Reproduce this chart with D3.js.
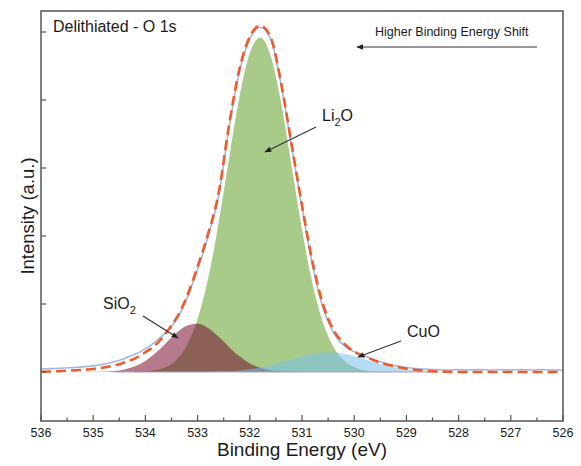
<!DOCTYPE html>
<html>
<head>
<meta charset="utf-8">
<script src="https://cdn.jsdelivr.net/npm/d3@7"></script>
<style>
  body { margin: 0; background: #fff; }
  text { font-family: "Liberation Sans", Arial, Helvetica, sans-serif; fill: #1a1a1a; }
</style>
</head>
<body>
<div id="chart"></div>
<script>
// binding energy grid (eV)
const energy = [536.0,535.8,535.6,535.4,535.2,535.0,534.8,534.6,534.4,534.2,
  534.0,533.8,533.6,533.4,533.2,533.0,532.8,532.6,532.4,532.2,
  532.0,531.8,531.6,531.4,531.2,531.0,530.8,530.6,530.4,530.2,
  530.0,529.8,529.6,529.4,529.2,529.0,528.8,528.6,528.4,528.2,
  528.0,527.8,527.6,527.4,527.2,527.0,526.8,526.6,526.4,526.2,526.0];

// fitted components
const sio2 = [0,0,0,0,0,0.002,0.005,0.015,0.037,0.083,
  0.163,0.283,0.431,0.577,0.682,0.708,0.648,0.521,0.369,0.230,
  0.126,0.061,0.026,0.010,0.003,0.001,0,0,0,0,
  0,0,0,0,0,0,0,0,0,0,
  0,0,0,0,0,0,0,0,0,0,0];
const li2o = [0,0,0,0,0,0,0,0,0,0.003,
  0.010,0.028,0.076,0.18,0.40,0.78,1.37,2.18,3.13,4.04,
  4.69,4.92,4.65,3.96,3.03,2.10,1.30,0.73,0.37,0.17,
  0.07,0.026,0.009,0.002,0,0,0,0,0,0,
  0,0,0,0,0,0,0,0,0,0,0];
const cuo = [0,0,0,0,0,0,0,0,0,0,
  0,0,0,0,0,0,0,0.006,0.012,0.022,
  0.039,0.065,0.099,0.141,0.188,0.232,0.268,0.287,0.287,0.268,
  0.232,0.188,0.141,0.099,0.065,0.039,0.022,0.012,0.006,0.003,
  0,0,0,0,0,0,0,0,0,0,0];
const envelope = [0.003,0.008,0.015,0.022,0.032,0.045,0.065,0.095,0.14,0.20,
  0.29,0.40,0.58,0.80,1.12,1.55,2.03,2.62,3.62,4.45,
  4.93,5.09,4.92,4.25,3.35,2.45,1.62,1.00,0.62,0.42,
  0.30,0.23,0.165,0.115,0.08,0.05,0.03,0.016,0.008,0.003,
  0,0,0,0,0,0,0,0,0,0,0];
const raw = [0.045,0.05,0.055,0.065,0.075,0.09,0.115,0.15,0.20,0.26,
  0.34,0.45,0.59,0.78,1.09,1.51,1.99,2.58,3.58,4.41,
  4.90,5.07,4.90,4.22,3.32,2.42,1.58,0.95,0.58,0.39,
  0.30,0.235,0.175,0.125,0.09,0.065,0.05,0.04,0.035,0.03,
  0.035,0.03,0.035,0.03,0.035,0.03,0.035,0.03,0.035,0.03,0.03];

const xTicks = [536,535,534,533,532,531,530,529,528,527,526];
const yTicks = [0,1,2,3,4,5];

const W = 581, H = 466;
const pL = 41, pR = 563, pT = 11, pB = 421;

const svg = d3.select("#chart").append("svg")
  .attr("width", W).attr("height", H);

const x = d3.scaleLinear().domain([536, 526]).range([pL, pR]);
const y = d3.scaleLinear().domain([-49/68, 361/68]).range([pB, pT]);

svg.append("clipPath").attr("id", "clip")
  .append("rect").attr("x", pL).attr("y", pT)
  .attr("width", pR - pL).attr("height", pB - pT);

const g = svg.append("g").attr("clip-path", "url(#clip)");

const pts = arr => arr.map((v, i) => [energy[i], v]);
const area = d3.area().x(d => x(d[0])).y0(y(0)).y1(d => y(d[1])).curve(d3.curveMonotoneX);
const line = d3.line().x(d => x(d[0])).y(d => y(d[1])).curve(d3.curveMonotoneX);

// components
g.append("path").attr("d", area(pts(li2o))).attr("fill", "#a8cb8a");
g.append("path").attr("d", area(pts(sio2))).attr("fill", "rgb(115,4,38)").attr("fill-opacity", 0.53);
g.append("path").attr("d", area(pts(cuo))).attr("fill", "rgb(118,191,233)").attr("fill-opacity", 0.54);

g.append("line")
  .attr("x1", x(534.6)).attr("x2", x(528.4))
  .attr("y1", y(0)).attr("y2", y(0))
  .attr("stroke", "#a7a0c8").attr("stroke-width", 1.2);

// raw data
g.append("path").attr("d", line(pts(raw)))
  .attr("fill", "none").attr("stroke", "#9dbbdc").attr("stroke-width", 1.6);

// envelope
g.append("path").attr("d", line(pts(envelope)))
  .attr("fill", "none").attr("stroke", "#f15a2b").attr("stroke-width", 2.6)
  .attr("stroke-dasharray", "10,5");

// frame
svg.append("rect").attr("x", pL).attr("y", pT)
  .attr("width", pR - pL).attr("height", pB - pT)
  .attr("fill", "none").attr("stroke", "#555").attr("stroke-width", 1.5);

// x ticks (inward)
const xMinor = xTicks.slice(0, -1).map(t => t - 0.5);
svg.selectAll(".xt").data(xTicks).enter().append("line")
  .attr("x1", d => x(d)).attr("x2", d => x(d))
  .attr("y1", pB).attr("y2", pB - 6)
  .attr("stroke", "#555").attr("stroke-width", 1.2);
svg.selectAll(".xm").data(xMinor).enter().append("line")
  .attr("x1", d => x(d)).attr("x2", d => x(d))
  .attr("y1", pB).attr("y2", pB - 3.5)
  .attr("stroke", "#555").attr("stroke-width", 1.2);
svg.selectAll(".xl").data(xTicks).enter().append("text")
  .attr("x", d => x(d)).attr("y", 437)
  .attr("text-anchor", "middle").attr("font-size", 12.5)
  .text(d => d);

// y ticks (inward, no labels)
svg.selectAll(".yt").data(yTicks).enter().append("line")
  .attr("x1", pL).attr("x2", pL + 5)
  .attr("y1", d => y(d)).attr("y2", d => y(d))
  .attr("stroke", "#555").attr("stroke-width", 1.2);

// axis titles
svg.append("text").attr("x", 302).attr("y", 456)
  .attr("text-anchor", "middle").attr("font-size", 19)
  .text("Binding Energy (eV)");
svg.append("text").attr("transform", "translate(34,216) rotate(-90)")
  .attr("text-anchor", "middle").attr("font-size", 18.5)
  .text("Intensity (a.u.)");

// annotations
svg.append("text").attr("x", 53).attr("y", 32).attr("font-size", 16)
  .text("Delithiated - O 1s");
svg.append("text").attr("x", 375).attr("y", 36).attr("font-size", 12.5)
  .text("Higher Binding Energy Shift");

const defs = svg.append("defs");
defs.append("marker").attr("id", "ah")
  .attr("viewBox", "0 0 10 10").attr("refX", 9).attr("refY", 5)
  .attr("markerWidth", 7).attr("markerHeight", 7)
  .attr("markerUnits", "userSpaceOnUse")
  .attr("orient", "auto")
  .append("path").attr("d", "M0,1 L10,5 L0,9 Z").attr("fill", "#222");

const arrows = [
  [537, 47, 357, 47],
  [316, 127, 265, 152],
  [143, 316, 178, 338],
  [401, 341, 358, 357]
];
svg.selectAll(".ar").data(arrows).enter().append("line")
  .attr("x1", d => d[0]).attr("y1", d => d[1])
  .attr("x2", d => d[2]).attr("y2", d => d[3])
  .attr("stroke", "#333").attr("stroke-width", 1.2)
  .attr("marker-end", "url(#ah)");

function chem(xp, yp, parts) {
  const t = svg.append("text").attr("x", xp).attr("y", yp).attr("font-size", 16);
  parts.forEach(p => {
    if (p.sub) {
      t.append("tspan").attr("font-size", 11).attr("dy", 5).text(p.s);
    } else {
      t.append("tspan").attr("dy", p.back ? -5 : 0).text(p.s);
    }
  });
}
chem(322, 121, [{s: "Li"}, {s: "2", sub: true}, {s: "O", back: true}]);
chem(103, 309, [{s: "SiO"}, {s: "2", sub: true}]);
chem(407, 337, [{s: "CuO"}]);
</script>
</body>
</html>
